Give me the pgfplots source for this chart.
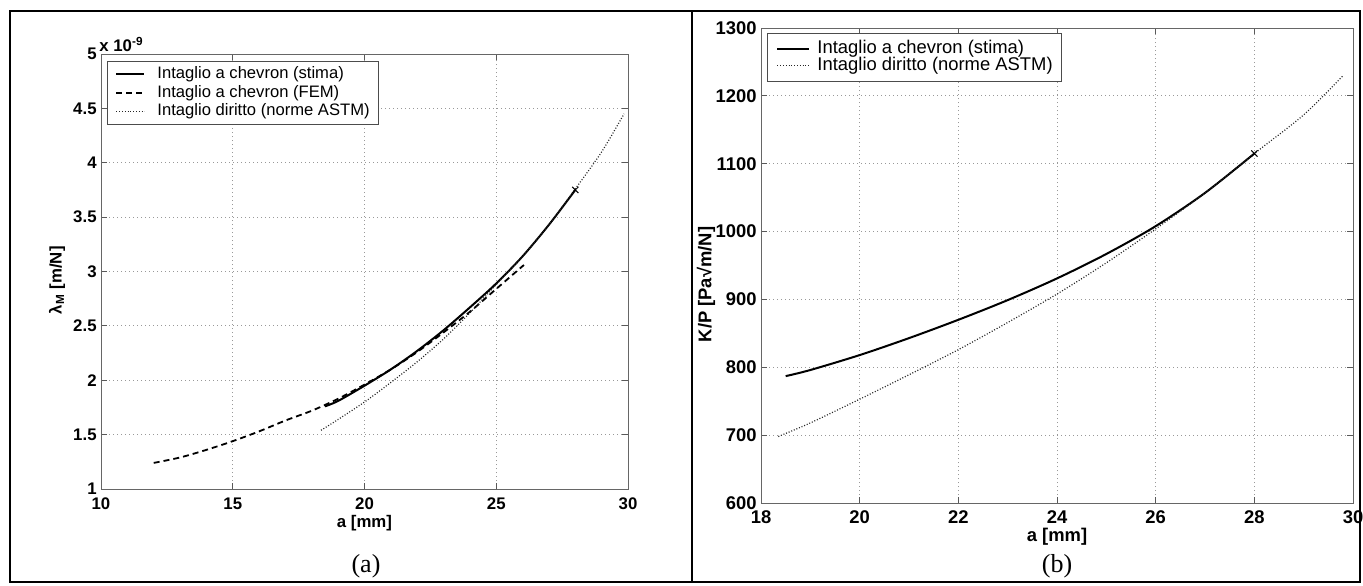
\documentclass[border=0pt]{standalone}
\usepackage{fontspec}
\setmainfont{Liberation Sans}
\newfontfamily\seriffont{Liberation Serif}
\usepackage{pgfplots}
\pgfplotsset{compat=1.18}

\pgfplotsset{
  matlab/.style={
    scale only axis,
    axis line style={draw=black!60, line width=0.5pt},
    grid=major,
    major grid style={draw=black!40, line width=0.4pt, dash pattern=on 0.6pt off 1.4pt},
    tick style={draw=black!65, line width=0.5pt},
    major tick length=3pt,
    tick align=inside,
    xtick pos=both, ytick pos=both,
    /pgf/number format/assume math mode=true,
    /pgf/number format/1000 sep={},
    scaled ticks=false,
    tick label style={inner sep=0pt},
    xticklabel style={anchor=north, yshift=-4.2pt},
    yticklabel style={anchor=east, xshift=-2pt},
    legend cell align=left,
    clip=false,
  },
  stima/.style={black, line width=1pt, smooth, tension=0.5},
  fem/.style={black, line width=0.9pt, dash pattern=on 3pt off 2pt, smooth, tension=0.5},
  astm/.style={black!85, line width=0.6pt, dash pattern=on 0.5pt off 0.9pt, smooth, tension=0.5},
}

\begin{document}
\begin{tikzpicture}
\path[use as bounding box] (0,0) rectangle (681.5pt,292.5pt);
% outer frame
\draw[line width=1.2pt] (5pt,287pt) rectangle (680pt,1.5pt);
\draw[line width=1.2pt] (346pt,287pt) -- (346pt,1.5pt);

% ---------------- (a) ----------------
\begin{axis}[matlab,
  name=leftax,
  at={(50.5pt,48pt)}, anchor=south west,
  width=263.5pt, height=217.5pt,
  xmin=10, xmax=30, ymin=1, ymax=5,
  xtick={10,15,20,25,30},
  ytick={1,1.5,2,2.5,3,3.5,4,4.5,5},
  tick label style={font=\bfseries\fontsize{8.4}{9}\selectfont},
  xlabel={a [mm]},
  ylabel={λ\textsubscript{M} [m/N]},
  xlabel style={font=\bfseries\fontsize{8.4}{10}\selectfont, at={(axis description cs:0.5,-0.078)}, anchor=center},
  ylabel style={font=\bfseries\fontsize{8.4}{10}\selectfont, at={(axis description cs:-0.0835,0.48)}, anchor=center},
  legend image code/.code={\draw[#1] (0pt,0pt) -- (14pt,0pt);},
  legend style={at={(axis description cs:0.0106,0.984)}, anchor=north west,
    draw=black!70, line width=0.5pt, fill=white,
    font=\fontsize{8.3}{10}\selectfont,
    inner xsep=4.2pt, inner ysep=2.6pt,
    nodes={inner sep=0pt, text height=6pt, text depth=1.8pt},
    row sep=1.45pt, column sep=6pt},
]
\addplot[stima] coordinates {
(18.5,1.76) (19,1.81) (20,1.95) (21,2.10) (22,2.27) (23,2.46) (24,2.67) (25,2.89) (26,3.14) (27,3.43) (28,3.75)
};
\addlegendentry{Intaglio a chevron (stima)}
\addplot[fem] coordinates {
(12,1.24) (13,1.29) (14,1.36) (15,1.44) (16,1.53) (17,1.63) (18,1.72) (19,1.83) (20,1.96) (21,2.10) (22,2.26) (23,2.44) (24,2.63) (25,2.84) (26.05,3.06)
};
\addlegendentry{Intaglio a chevron (FEM)}
\addplot[astm] coordinates {
(18.35,1.54) (19,1.64) (20,1.80) (21,1.98) (22,2.17) (23,2.38) (24,2.62) (25,2.88) (26,3.14) (27,3.43) (28,3.76) (29,4.10) (29.85,4.45)
};
\addlegendentry{Intaglio diritto (norme ASTM)}
\addplot[only marks, mark=x, mark size=2.2pt, black, line width=0.5pt, forget plot] coordinates {(28,3.75)};
\end{axis}
\node[anchor=base west, inner sep=0pt, font=\bfseries\fontsize{8.4}{9}\selectfont] at ([xshift=-1pt,yshift=1.2pt]leftax.north west) {x 10\textsuperscript{-9}};
\node[font=\seriffont\fontsize{13}{15}\selectfont] at (183pt,9.5pt) {(a)};

% ---------------- (b) ----------------
\begin{axis}[matlab,
  name=rightax,
  at={(380.5pt,41pt)}, anchor=south west,
  width=296pt, height=237.5pt,
  xmin=18, xmax=30, ymin=600, ymax=1300,
  xtick={18,20,22,24,26,28,30},
  ytick={600,700,800,900,1000,1100,1200,1300},
  tick label style={font=\bfseries\fontsize{9.2}{10}\selectfont},
  xticklabel style={yshift=0.4pt},
  xlabel={a [mm]},
  ylabel={K/P [Pa√m/N]},
  xlabel style={font=\bfseries\fontsize{9.2}{11}\selectfont, at={(axis description cs:0.5,-0.071)}, anchor=center},
  ylabel style={font=\bfseries\fontsize{9.2}{11}\selectfont, at={(axis description cs:-0.093,0.46)}, anchor=center},
  legend image code/.code={\draw[#1] (0pt,0pt) -- (16pt,0pt);},
  legend style={at={(axis description cs:0.0101,0.9895)}, anchor=north west,
    draw=black!70, line width=0.5pt, fill=white,
    font=\fontsize{9.2}{11}\selectfont,
    inner xsep=4.5pt, inner ysep=3.9pt,
    nodes={inner sep=0pt, text height=6.2pt, text depth=1.8pt},
    row sep=0.25pt, column sep=3.5pt},
]
\addplot[stima] coordinates {
(18.5,787) (19,796) (20,818) (21,843) (22,870) (23,899) (24,931) (25,967) (26,1008) (27,1057) (28,1115)
};
\addlegendentry{Intaglio a chevron (stima)}
\addplot[astm] coordinates {
(18.35,698) (19,718) (20,753) (21,789) (22,826) (23,866) (24,908) (25,954) (26,1004) (27,1057) (28,1115) (29,1172) (29.8,1230)
};
\addlegendentry{Intaglio diritto (norme ASTM)}
\addplot[only marks, mark=x, mark size=2.2pt, black, line width=0.5pt, forget plot] coordinates {(28,1115)};
\end{axis}
\node[font=\seriffont\fontsize{13}{15}\selectfont] at (528.5pt,9.5pt) {(b)};
\end{tikzpicture}
\end{document}
